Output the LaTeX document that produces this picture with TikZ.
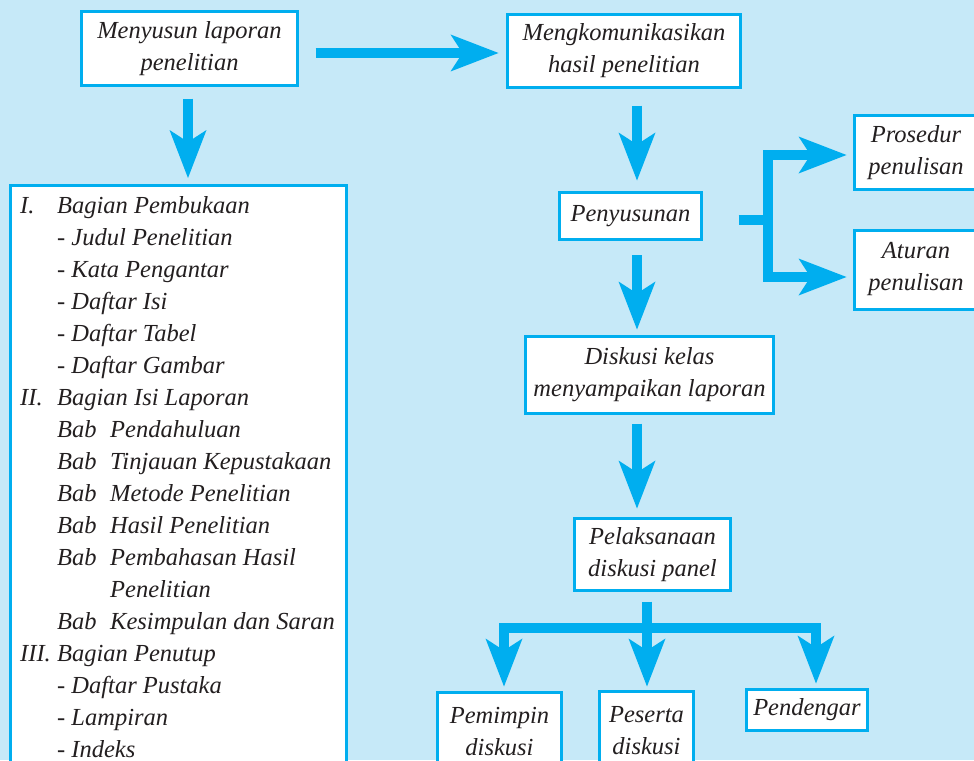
\documentclass[tikz,border=0pt]{standalone}
\usepackage{fontspec}
\setmainfont{Liberation Serif}
\usetikzlibrary{arrows.meta}
\definecolor{sky}{RGB}{198,233,248}
\definecolor{cyanline}{RGB}{0,174,239}
\definecolor{ink}{RGB}{35,31,32}
\newcommand\boxfont{\fontsize{24.5}{32}\selectfont\itshape}
\tikzset{
  box/.style={draw=cyanline, line width=3pt, fill=white, align=center,
    inner sep=0pt, font=\boxfont, text=ink},
  fat/.style={draw=cyanline, line width=10pt},
  fatarrow/.style={fat, -{Stealth[length=48pt, width=37pt, inset=12pt, line width=0pt]}},
}
\begin{document}
\begin{tikzpicture}[x=1pt, y=-1pt]
\useasboundingbox (0,0) rectangle (974,760);
\fill[sky] (0,0) rectangle (974,760);
\clip (0,0) rectangle (974,760);

% boxes
\node[box, minimum width=216pt, minimum height=74pt] (menyusun) at (189.5,48.5) {Menyusun laporan\\penelitian};
\node[box, minimum width=233pt, minimum height=73pt] (mengkom) at (624,51) {Mengkomunikasikan\\hasil penelitian};
\node[box, anchor=north, minimum width=336pt, minimum height=700pt] (parts) at (178.5,183.5) {};
\node[box, minimum width=142pt, minimum height=47pt] (penyusunan) at (630.5,216) {Penyusunan};
\node[box, minimum width=123pt, minimum height=74pt] (prosedur) at (916,152.5) {Prosedur\\penulisan};
\node[box, minimum width=123pt, minimum height=79pt] (aturan) at (916,269.5) {Aturan\\penulisan};
\node[box, minimum width=248pt, minimum height=77pt] (diskusi) at (649.5,374.5) {Diskusi kelas\\menyampaikan laporan};
\node[box, minimum width=156pt, minimum height=72pt] (pelaksanaan) at (652.5,554.5) {Pelaksanaan\\diskusi panel};
\node[box, minimum width=124pt, minimum height=78pt] (pemimpin) at (499.5,731.5) {Pemimpin\\diskusi};
\node[box, minimum width=94pt, minimum height=78pt] (peserta) at (646.5,730.5) {Peserta\\diskusi};
\node[box, minimum width=121pt, minimum height=41pt] (pendengar) at (807,710) {Pendengar};

% outline of the report
\node[anchor=base west, inner sep=0pt, font=\boxfont, text=ink] (outline) at (20,213) {\parbox[t]{320pt}{\raggedright
\makebox[37pt][l]{I.}Bagian Pembukaan\\
\hspace*{37pt}- Judul Penelitian\\
\hspace*{37pt}- Kata Pengantar\\
\hspace*{37pt}- Daftar Isi\\
\hspace*{37pt}- Daftar Tabel\\
\hspace*{37pt}- Daftar Gambar\\
\makebox[37pt][l]{II.}Bagian Isi Laporan\\
\hspace*{37pt}\makebox[53pt][l]{Bab}Pendahuluan\\
\hspace*{37pt}\makebox[53pt][l]{Bab}Tinjauan Kepustakaan\\
\hspace*{37pt}\makebox[53pt][l]{Bab}Metode Penelitian\\
\hspace*{37pt}\makebox[53pt][l]{Bab}Hasil Penelitian\\
\hspace*{37pt}\makebox[53pt][l]{Bab}Pembahasan Hasil\\
\hspace*{90pt}Penelitian\\
\hspace*{37pt}\makebox[53pt][l]{Bab}Kesimpulan dan Saran\\
\makebox[37pt][l]{III.}Bagian Penutup\\
\hspace*{37pt}- Daftar Pustaka\\
\hspace*{37pt}- Lampiran\\
\hspace*{37pt}- Indeks}};

% helper points for the connectors
\coordinate (axis) at (637,0);
\coordinate (fork) at (768,220);
\coordinate (hub) at (647,628);

% connectors
\draw[fatarrow] ([shift={(16.5,4.5)}]menyusun.east) -- ([shift={(-7.5,4.5)}]menyusun.east -| mengkom.west);
\draw[fatarrow] ([shift={(-1.5,11.5)}]menyusun.south) -- ([shift={(-1.5,-5.5)}]menyusun.south |- parts.north);
\draw[fatarrow] ([shift={(0,16.5)}]mengkom.south -| axis) -- ([shift={(0,-10.5)}]penyusunan.north -| axis);
\draw[fatarrow] ([shift={(0,14)}]penyusunan.south -| axis) -- ([shift={(0,-5)}]diskusi.north -| axis);
\draw[fatarrow] ([shift={(0,9)}]diskusi.south -| axis) -- ([shift={(0,-8.5)}]pelaksanaan.north -| axis);

\draw[fat] ([shift={(35.5,4)}]penyusunan.east) -- (fork);
\draw[fatarrow] (fork) |- ([shift={(-6.5,2.5)}]prosedur.west);
\draw[fatarrow] (fork) |- ([shift={(-6.5,7.5)}]aturan.west);

\draw[fat] ([shift={(-5.5,9.5)}]pelaksanaan.south) -- (hub);
\draw[fatarrow] (hub) -| ([shift={(4.5,-4.5)}]pemimpin.north);
\draw[fatarrow] (hub) -- ([shift={(0.5,-3.5)}]peserta.north);
\draw[fatarrow] (hub) -| ([shift={(9,-4.5)}]pendengar.north);
\end{tikzpicture}
\end{document}
